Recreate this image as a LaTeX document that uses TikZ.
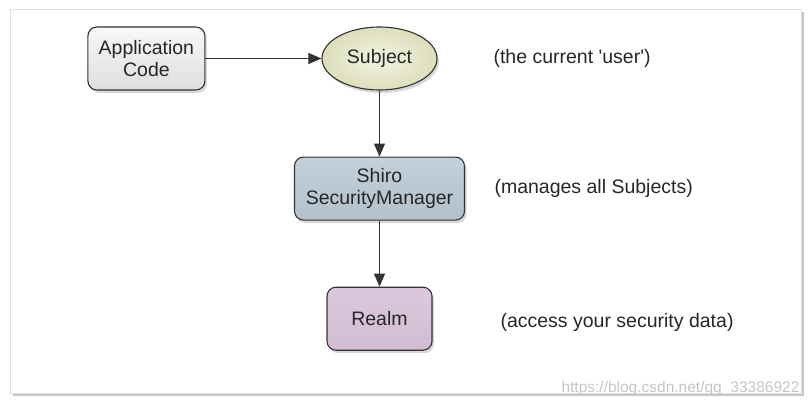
\documentclass[tikz,border=0pt]{standalone}
\usepackage{fontspec}
\setmainfont{Liberation Sans}
\usetikzlibrary{arrows.meta,positioning,shadows,shapes.geometric}
\definecolor{edgegray}{HTML}{333333}
\definecolor{textgray}{HTML}{262626}
\definecolor{apptop}{HTML}{F8F8F8}
\definecolor{appbot}{HTML}{DEDEDE}
\definecolor{subjin}{HTML}{F3F4E4}
\definecolor{subjout}{HTML}{DCDEBB}
\definecolor{mgrtop}{HTML}{C3D0DA}
\definecolor{mgrmid}{HTML}{E2E9EE}
\definecolor{mgrbot}{HTML}{B2C1CC}
\definecolor{realmtop}{HTML}{DCC8DC}
\definecolor{realmmid}{HTML}{F2E8F2}
\definecolor{realmbot}{HTML}{D2BCD2}
\tikzset{
	box/.style={draw=edgegray, line width=1.1pt, rounded corners=9pt, align=center, minimum height=63pt, inner sep=2pt, drop shadow={shadow xshift=2pt, shadow yshift=-3pt, opacity=0.3}},
	actor/.style={draw=edgegray, line width=1.1pt, ellipse, align=center, minimum width=115pt, minimum height=63pt, inner sep=1pt, inner color=subjin, outer color=subjout, drop shadow={shadow xshift=2pt, shadow yshift=-3pt, opacity=0.3}},
	note/.style={anchor=west, text=textgray},
	flow/.style={-{Triangle[length=13pt,width=11pt]}, line width=1.1pt, draw=edgegray},
	panel/.style={draw=gray!25, fill=white, minimum width=791pt, minimum height=384pt, drop shadow={shadow xshift=3pt, shadow yshift=-3pt, opacity=0.45}},
	watermark/.style={anchor=west, text=gray!45, font=\fontsize{15.5}{17}\selectfont}
}
\begin{document}
\begin{tikzpicture}[x=1pt, y=1pt, node distance=66pt and 116pt, font=\fontsize{19.5}{22}\selectfont, text=textgray]
	\useasboundingbox (0,0) rectangle (812,405);
	\node[panel] (frame) at (405.5,204) {};
	\node[actor] (subject) at (379.5,346.5) {Subject};
	\node[box, left=of subject, minimum width=117pt, top color=apptop, bottom color=appbot] (app) {Application\\Code};
	\node[box, below=of subject, minimum width=170pt, top color=mgrtop, middle color=mgrmid, bottom color=mgrbot] (manager) {Shiro\\SecurityManager};
	\node[box, below=of manager, minimum width=105pt, top color=realmtop, middle color=realmmid, bottom color=realmbot] (realm) {Realm};
	% side notes
	\node[note] (usernote) at (490,347) {(the current \textquotesingle user\textquotesingle)};
	\node[note] (mgrnote) at (491,217) {(manages all Subjects)};
	\node[note] (realmnote) at (497,83) {(access your security data)};
	\node[watermark] (wm) at (558,17) {https://blog.csdn.net/qq\_33386922};
	\draw[flow] (app.east) -- (subject.west);
	\draw[flow] (subject.south) -- (manager.north);
	\draw[flow] (manager.south) -- (realm.north);
\end{tikzpicture}
\end{document}
